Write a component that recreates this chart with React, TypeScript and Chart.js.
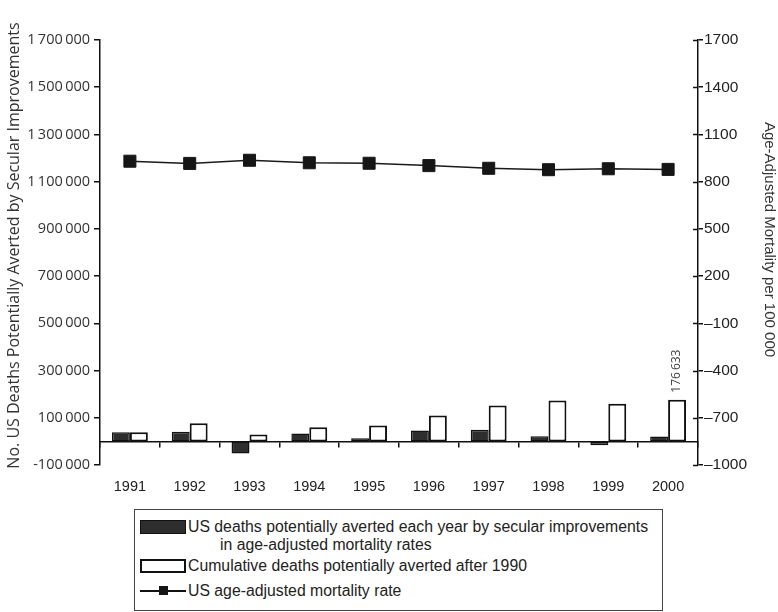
import React, { useEffect, useRef } from 'react';
import { Chart, registerables } from 'chart.js';

Chart.register(...registerables);

// ---------- data ----------
const years = ['1991', '1992', '1993', '1994', '1995', '1996', '1997', '1998', '1999', '2000'];
const annualAverted = [38500, 41000, -51000, 33000, 13500, 46000, 49000, 21500, -16000, 20500];
const cumulativeAverted = [38500, 77000, 29000, 59500, 67500, 110000, 152000, 173000, 159000, 176633];
const mortalityRate = [930, 916, 936, 920, 917, 902, 885, 876, 882, 878];

const leftMin = -100000;
const leftMax = 1700000;
const leftStep = 200000;
const rightMin = -1000;
const rightMax = 1700;
const rightStep = 300;

const leftTitle = 'No. US Deaths Potentially Averted by Secular Improvements';
const rightTitle = 'Age-Adjusted Mortality per 100 000';
const legendAnnual = ['US deaths potentially averted each year by secular improvements', 'in age-adjusted mortality rates'];
const legendCumulative = 'Cumulative deaths potentially averted after 1990';
const legendRate = 'US age-adjusted mortality rate';

const ARIAL = '"Liberation Sans", Arial, sans-serif';
const OPEN = '"Open Sans", sans-serif';

function groupThousands(v: number): string {
  const sign = v < 0 ? '-' : '';
  const s = String(Math.abs(Math.round(v)));
  const parts: string[] = [];
  for (let i = s.length; i > 0; i -= 3) parts.unshift(s.slice(Math.max(0, i - 3), i));
  return sign + parts.join('\u2009');
}

const extrasPlugin = {
  id: 'extras',
  afterDraw(chart: any) {
    const ctx = chart.ctx as CanvasRenderingContext2D;
    const area = chart.chartArea;
    // inner tick marks on the right axis
    const r = chart.scales.y1;
    ctx.save();
    ctx.strokeStyle = '#111';
    ctx.lineWidth = 1.5;
    r.ticks.forEach((t: any) => {
      const y = Math.round(r.getPixelForValue(t.value)) + 0.5;
      ctx.beginPath();
      ctx.moveTo(r.left - 5, y);
      ctx.lineTo(r.left, y);
      ctx.stroke();
    });
    ctx.restore();

    // value label above last cumulative bar
    const meta = chart.getDatasetMeta(1);
    const last = meta.data[meta.data.length - 1] as any;
    if (last) {
      ctx.save();
      ctx.translate(last.x, last.y - 7);
      ctx.rotate(-Math.PI / 2);
      ctx.font = `12px ${OPEN}`;
      ctx.fillStyle = '#444';
      ctx.textAlign = 'left';
      ctx.textBaseline = 'middle';
      ctx.fillText(groupThousands(cumulativeAverted[cumulativeAverted.length - 1]), 0, 0);
      ctx.restore();
    }

    // axis titles
    const midY = (area.top + area.bottom) / 2;
    ctx.save();
    ctx.fillStyle = '#333';
    ctx.textAlign = 'center';
    ctx.textBaseline = 'middle';
    ctx.font = `16px ${OPEN}`;
    ctx.translate(14, midY - 7);
    ctx.rotate(-Math.PI / 2);
    ctx.fillText(leftTitle, 0, 0);
    ctx.restore();

    ctx.save();
    ctx.fillStyle = '#333';
    ctx.textAlign = 'center';
    ctx.textBaseline = 'middle';
    ctx.font = `15px ${ARIAL}`;
    ctx.translate(769, midY - 13);
    ctx.rotate(Math.PI / 2);
    ctx.fillText(rightTitle, 0, 0);
    ctx.restore();
  },
};

export default function App() {
  const canvasRef = useRef<HTMLCanvasElement>(null);

  useEffect(() => {
    const canvas = canvasRef.current;
    if (!canvas) return;
    const chart = new Chart(canvas, {
      type: 'bar',
      data: {
        labels: years,
        datasets: [
          {
            type: 'bar',
            label: legendAnnual.join(' '),
            data: annualAverted,
            backgroundColor: '#2e2e2e',
            borderColor: '#111',
            borderWidth: 1.5,
            borderSkipped: false,
            categoryPercentage: 0.6,
            barPercentage: 1,
            xAxisID: 'x',
            yAxisID: 'y',
            order: 2,
          },
          {
            type: 'bar',
            label: legendCumulative,
            data: cumulativeAverted,
            backgroundColor: '#ffffff',
            borderColor: '#111',
            borderWidth: 2,
            borderSkipped: false,
            categoryPercentage: 0.6,
            barPercentage: 1,
            xAxisID: 'x',
            yAxisID: 'y',
            order: 2,
          },
          {
            type: 'line',
            label: legendRate,
            data: mortalityRate,
            borderColor: '#1a1a1a',
            borderWidth: 1.5,
            pointStyle: 'rect',
            pointRadius: 8.5,
            pointBackgroundColor: '#161616',
            pointBorderColor: '#161616',
            pointBorderWidth: 1,
            tension: 0,
            xAxisID: 'x',
            yAxisID: 'y1',
            order: 0,
          } as any,
        ],
      },
      options: {
        responsive: false,
        animation: false,
        devicePixelRatio: 1,
        layout: { padding: { top: 40, left: 0, right: 0, bottom: 0 } },
        plugins: {
          legend: { display: false },
          tooltip: { enabled: false },
        },
        scales: {
          x: {
            type: 'category',
            position: 'bottom',
            offset: true,
            grid: { display: false, drawTicks: false },
            border: { display: false },
            ticks: {
              color: '#222',
              font: { family: ARIAL, size: 14.5 },
              padding: 13,
              maxRotation: 0,
              autoSkip: false,
            },
            afterFit: (s: any) => {
              s.height = 40;
            },
          },
          x2: {
            type: 'category',
            labels: years,
            position: { y: 0 },
            offset: true,
            grid: {
              display: true,
              offset: true,
              drawOnChartArea: false,
              drawTicks: true,
              tickLength: 5,
              color: '#111',
              lineWidth: 1.5,
            },
            border: { display: true, color: '#111', width: 1.5 },
            ticks: { display: false },
          } as any,
          y: {
            type: 'linear',
            position: 'left',
            min: leftMin,
            max: leftMax,
            ticks: {
              stepSize: leftStep,
              callback: (v: any) => groupThousands(Number(v)),
              color: '#333',
              font: { family: OPEN, size: 14.5 },
              padding: 4,
            },
            grid: {
              drawOnChartArea: false,
              drawTicks: true,
              tickLength: 6,
              color: '#111',
              lineWidth: 1.5,
            },
            border: { display: true, color: '#111', width: 1.5 },
            afterFit: (s: any) => {
              s.width = 100;
            },
          },
          y1: {
            type: 'linear',
            position: 'right',
            min: rightMin,
            max: rightMax,
            ticks: {
              stepSize: rightStep,
              callback: (v: any) => (Number(v) < 0 ? '\u2013' + Math.abs(Number(v)) : String(v)),
              color: '#222',
              font: { family: ARIAL, size: 15.5 },
              padding: 1,
            },
            grid: {
              drawOnChartArea: false,
              drawTicks: true,
              tickLength: 5,
              color: '#111',
              lineWidth: 1.5,
            },
            border: { display: true, color: '#111', width: 1.5 },
            afterFit: (s: any) => {
              s.width = 80;
            },
          },
        },
      },
      plugins: [extrasPlugin],
    });
    return () => chart.destroy();
  }, []);

  const textStyle: React.CSSProperties = {
    position: 'absolute',
    whiteSpace: 'nowrap',
    lineHeight: '18px',
    height: 18,
  };

  return (
    <div style={{ position: 'absolute', left: 0, top: 0, width: 778, height: 612, background: '#fff' }}>
      <canvas ref={canvasRef} width={778} height={505} style={{ position: 'absolute', left: 0, top: 0, width: 778, height: 505 }} />
      <div
        style={{
          position: 'absolute',
          left: 134,
          top: 509,
          width: 529,
          height: 102,
          boxSizing: 'border-box',
          border: '1px solid #444',
          fontFamily: ARIAL,
          fontSize: 15.8,
          color: '#222',
        }}
      >
        <div style={{ position: 'absolute', left: 5, top: 10, width: 46, height: 14, boxSizing: 'border-box', background: '#2e2e2e', border: '1px solid #111' }} />
        <div style={{ ...textStyle, left: 53, top: 8 }}>{legendAnnual[0]}</div>
        <div style={{ ...textStyle, left: 85, top: 26 }}>{legendAnnual[1]}</div>
        <div style={{ position: 'absolute', left: 5, top: 49, width: 46, height: 14, boxSizing: 'border-box', background: '#fff', border: '2px solid #111' }} />
        <div style={{ ...textStyle, left: 53, top: 47 }}>{legendCumulative}</div>
        <div style={{ position: 'absolute', left: 5, top: 80, width: 46, height: 1.5, background: '#111' }} />
        <div style={{ position: 'absolute', left: 24, top: 76, width: 9, height: 9, background: '#161616' }} />
        <div style={{ ...textStyle, left: 53, top: 72 }}>{legendRate}</div>
      </div>
    </div>
  );
}
